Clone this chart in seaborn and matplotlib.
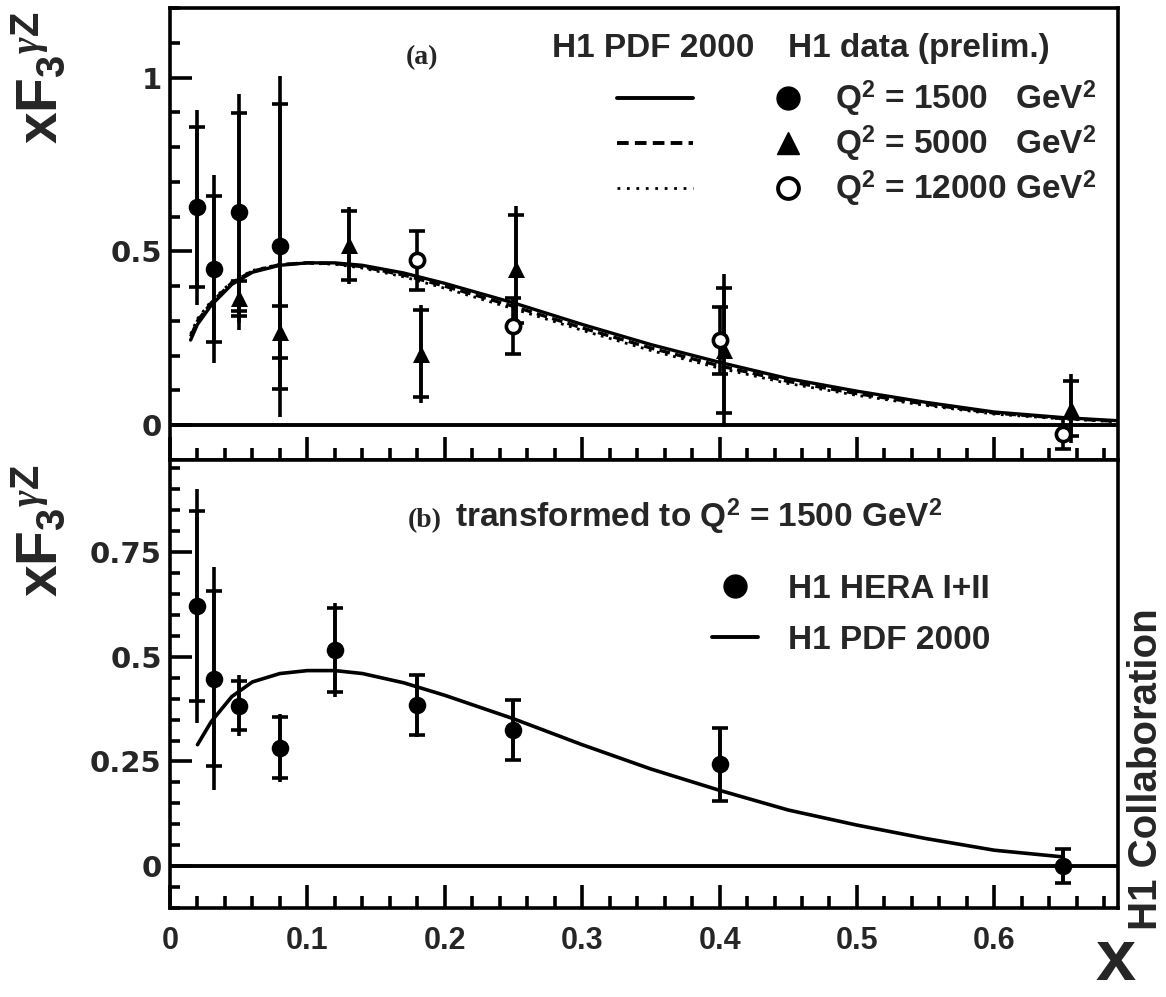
"""
xF3 gamma-Z structure function, H1 PDF 2000 vs H1 data
(a) three Q2 bins, (b) transformed to Q2 = 1500 GeV2
"""

import matplotlib
matplotlib.use('Agg')
import matplotlib.pyplot as plt
from matplotlib.lines import Line2D
from matplotlib.ticker import MultipleLocator
import numpy as np
import pandas as pd
import seaborn as sns

# H1 PDF 2000 curves
pdf_x = [0.015, 0.02, 0.03, 0.045, 0.06, 0.08, 0.10, 0.12, 0.14, 0.17, 0.20,
         0.25, 0.30, 0.35, 0.40, 0.45, 0.50, 0.55, 0.60, 0.65, 0.69]
pdf_1500 = [0.245, 0.29, 0.345, 0.405, 0.44, 0.46, 0.467, 0.467, 0.46, 0.438, 0.408,
            0.352, 0.29, 0.232, 0.181, 0.134, 0.098, 0.066, 0.038, 0.022, 0.013]
pdf_5000 = [0.255, 0.30, 0.352, 0.41, 0.443, 0.462, 0.467, 0.465, 0.456, 0.432, 0.400,
            0.342, 0.280, 0.222, 0.171, 0.126, 0.091, 0.061, 0.035, 0.020, 0.011]
pdf_12000 = [0.262, 0.306, 0.357, 0.413, 0.445, 0.463, 0.466, 0.463, 0.452, 0.427, 0.394,
             0.335, 0.273, 0.215, 0.164, 0.120, 0.086, 0.057, 0.032, 0.018, 0.010]

# (a) Q2 = 1500 GeV2
q1500_x = [0.02, 0.032, 0.05, 0.08]
q1500_y = [0.627, 0.450, 0.614, 0.515]
q1500_stat = [0.23, 0.21, 0.285, 0.41]
q1500_tot = [0.28, 0.27, 0.34, 0.49]

# (a) Q2 = 5000 GeV2
q5000_x = [0.05, 0.08, 0.13, 0.183, 0.252, 0.403, 0.656]
q5000_y = [0.365, 0.268, 0.517, 0.205, 0.450, 0.215, 0.048]
q5000_stat = [0.05, 0.075, 0.10, 0.125, 0.155, 0.18, 0.08]
q5000_tot = [0.07, 0.10, 0.11, 0.14, 0.18, 0.22, 0.10]

# (a) Q2 = 12000 GeV2
q12000_x = [0.18, 0.25, 0.40, 0.65]
q12000_y = [0.474, 0.285, 0.244, -0.024]
q12000_stat = [0.086, 0.08, 0.096, 0.045]

# (b) H1 HERA I+II, transformed to Q2 = 1500 GeV2
comb_x = [0.02, 0.032, 0.05, 0.08, 0.12, 0.18, 0.25, 0.40, 0.65]
comb_y = [0.621, 0.448, 0.383, 0.283, 0.516, 0.384, 0.325, 0.243, 0.0]
comb_stat = [0.227, 0.21, 0.058, 0.072, 0.10, 0.072, 0.072, 0.087, 0.04]
comb_tot = [0.28, 0.267, 0.073, 0.081, 0.112, 0.075, 0.075, 0.09, 0.04]

top_yticks = [0, 0.5, 1]
top_yticklabels = ['0', '0.5', '1']
bot_yticks = [0, 0.25, 0.5, 0.75]
bot_yticklabels = ['0', '0.25', '0.5', '0.75']
xticks = [0, 0.1, 0.2, 0.3, 0.4, 0.5, 0.6]
xticklabels = ['0', '0.1', '0.2', '0.3', '0.4', '0.5', '0.6']

sns.set_theme(style='white')
plt.rcParams['font.family'] = ['Liberation Sans', 'DejaVu Sans']
plt.rcParams['font.weight'] = 'bold'
plt.rcParams['mathtext.fontset'] = 'custom'
plt.rcParams['mathtext.rm'] = 'Liberation Sans:bold'
plt.rcParams['mathtext.bf'] = 'Liberation Sans:bold'
plt.rcParams['mathtext.it'] = 'Liberation Serif:italic'

W, H = 1166, 997
LW = 2.6


def fx(px):
    return px / W


def fy(py):
    return 1 - py / H


def draw_points(ax, x, y, stat, tot, marker, filled=True, size=150):
    if tot is not None:
        ax.errorbar(x, y, yerr=tot, fmt='none', ecolor='black', elinewidth=LW,
                    capsize=0, zorder=3)
    ax.errorbar(x, y, yerr=stat, fmt='none', ecolor='black', elinewidth=LW,
                capsize=5.5, capthick=LW, zorder=3)
    df = pd.DataFrame({'x': x, 'y': y})
    sns.scatterplot(data=df, x='x', y='y', ax=ax, marker=marker, s=size,
                    color='black' if filled else 'white', edgecolor='black',
                    linewidth=0 if filled else LW, zorder=4, legend=False)


def style_axes(ax, ylim, yticks, ylabels, yminor):
    ax.set_xlim(0, 0.69)
    ax.set_ylim(*ylim)
    for s in ax.spines.values():
        s.set_linewidth(LW)
        s.set_color('black')
    ax.set_xticks(xticks)
    ax.xaxis.set_minor_locator(MultipleLocator(0.02))
    ax.set_yticks(yticks, labels=ylabels, fontfamily='DejaVu Sans',
                  fontsize=21, fontweight='bold')
    ax.yaxis.set_minor_locator(MultipleLocator(yminor))
    ax.tick_params(axis='both', which='both', direction='in', width=LW,
                   color='black', top=False, right=False, bottom=True, left=True)
    ax.tick_params(axis='y', which='major', length=16, pad=6)
    ax.tick_params(axis='y', which='minor', length=7.5)
    ax.tick_params(axis='x', which='major', length=16.5, pad=13)
    ax.tick_params(axis='x', which='minor', length=8.5)
    ax.axhline(0, color='black', lw=2.8, zorder=2)
    ax.set_xlabel('')
    ax.set_ylabel('')
    ax.grid(False)


fig = plt.figure(figsize=(W / 100, H / 100), dpi=100)
ax_top = fig.add_axes([fx(170), fy(460), fx(1118) - fx(170), fy(8) - fy(460)])
ax_bot = fig.add_axes([fx(170), fy(908), fx(1118) - fx(170), fy(460) - fy(908)])

# ---- panel (a)
sns.lineplot(x=pdf_x, y=pdf_1500, ax=ax_top, color='black', lw=2.4,
             sort=False, estimator=None, zorder=2)
sns.lineplot(x=pdf_x, y=pdf_5000, ax=ax_top, color='black', lw=2.4,
             linestyle=(0, (3.2, 1.6)), sort=False, estimator=None, zorder=2)
sns.lineplot(x=pdf_x, y=pdf_12000, ax=ax_top, color='black', lw=2.0,
             linestyle=(0, (1, 2.0)), sort=False, estimator=None, zorder=2)

draw_points(ax_top, q1500_x, q1500_y, q1500_stat, q1500_tot, 'o', size=160)
draw_points(ax_top, q5000_x, q5000_y, q5000_stat, q5000_tot, '^', size=150)
draw_points(ax_top, q12000_x, q12000_y, q12000_stat, None, 'o', filled=False, size=105)

style_axes(ax_top, (-0.1, 1.2), top_yticks, top_yticklabels, 0.1)
ax_top.tick_params(axis='x', labelbottom=False)

# ---- panel (b)
pdf_arr = np.array(pdf_x)
sel = (pdf_arr >= 0.02) & (pdf_arr <= 0.65)
sns.lineplot(x=pdf_arr[sel], y=np.array(pdf_1500)[sel], ax=ax_bot, color='black',
             lw=2.6, sort=False, estimator=None, zorder=2)
draw_points(ax_bot, comb_x, comb_y, comb_stat, comb_tot, 'o', size=160)

style_axes(ax_bot, (-0.1, 0.97), bot_yticks, bot_yticklabels, 0.05)
ax_bot.set_xticks(xticks, labels=xticklabels, fontsize=22, fontweight='bold')

# ---- legends
font = {'family': 'Liberation Sans', 'weight': 'bold', 'size': 24}
q_labels = [r'Q$^{\mathbf{2}}$ = 1500   GeV$^{\mathbf{2}}$',
            r'Q$^{\mathbf{2}}$ = 5000   GeV$^{\mathbf{2}}$',
            r'Q$^{\mathbf{2}}$ = 12000 GeV$^{\mathbf{2}}$']

line_handles = [Line2D([], [], color='black', lw=2.8),
                Line2D([], [], color='black', lw=2.8, ls=(0, (3.0, 1.6))),
                Line2D([], [], color='black', lw=2.0, ls=(0, (1, 2.4)))]
leg_lines = ax_top.legend(line_handles, ['', '', ''], loc='upper left',
                          bbox_to_anchor=(fx(617), fy(86)), bbox_transform=fig.transFigure,
                          frameon=False, prop=font, handlelength=2.28, handletextpad=0.0,
                          borderpad=0, borderaxespad=0, labelspacing=0.42)
ax_top.add_artist(leg_lines)

marker_handles = [Line2D([], [], ls='none', marker='o', ms=16.5, color='black'),
                  Line2D([], [], ls='none', marker='^', ms=15.5, color='black'),
                  Line2D([], [], ls='none', marker='o', ms=15, mfc='white',
                         mec='black', mew=2.8)]
ax_top.legend(marker_handles, q_labels, loc='upper left',
              bbox_to_anchor=(fx(771), fy(79)), bbox_transform=fig.transFigure,
              frameon=False, prop=font, handlelength=1.0, handletextpad=0.93,
              borderpad=0, borderaxespad=0, labelspacing=0.15)

fig.text(fx(552), fy(57), 'H1 PDF 2000', fontsize=24, fontweight='bold', va='baseline')
fig.text(fx(788), fy(57), 'H1 data (prelim.)', fontsize=24, fontweight='bold', va='baseline')
fig.text(fx(422), fy(64), '(a)', family='Liberation Serif', fontsize=20,
         fontweight='bold', ha='center', va='baseline')

bot_handles = [Line2D([], [], ls='none', marker='o', ms=16.5, color='black'),
               Line2D([], [], color='black', lw=2.8)]
ax_bot.legend(bot_handles, ['H1 HERA I+II', 'H1 PDF 2000'], loc='upper left',
              bbox_to_anchor=(fx(712), fy(574)), bbox_transform=fig.transFigure,
              frameon=False, prop=font, handlelength=1.38, handletextpad=0.9,
              borderpad=0, borderaxespad=0, labelspacing=0.6)

fig.text(fx(425), fy(527), '(b)', family='Liberation Serif', fontsize=20,
         fontweight='bold', ha='center', va='baseline')
fig.text(fx(455), fy(527), r'transformed to Q$^{\mathbf{2}}$ = 1500 GeV$^{\mathbf{2}}$',
         fontsize=24, fontweight='bold', va='baseline')

# axis titles
ylab = r'$\mathbf{xF}_{\mathbf{3}}{}^{\gamma\mathbf{Z}}$'
fig.text(fx(12), fy(144), ylab, fontsize=41, rotation=90, ha='left', va='bottom')
fig.text(fx(12), fy(597), ylab, fontsize=41, rotation=90, ha='left', va='bottom')
fig.text(fx(1136), fy(995), 'x', fontsize=52, fontweight='bold', ha='right', va='bottom')
fig.text(fx(1146), fy(769), 'H1 Collaboration', fontsize=29, fontweight='bold',
         rotation=90, ha='center', va='center')

plt.savefig('out.png', dpi=100)
plt.close()
